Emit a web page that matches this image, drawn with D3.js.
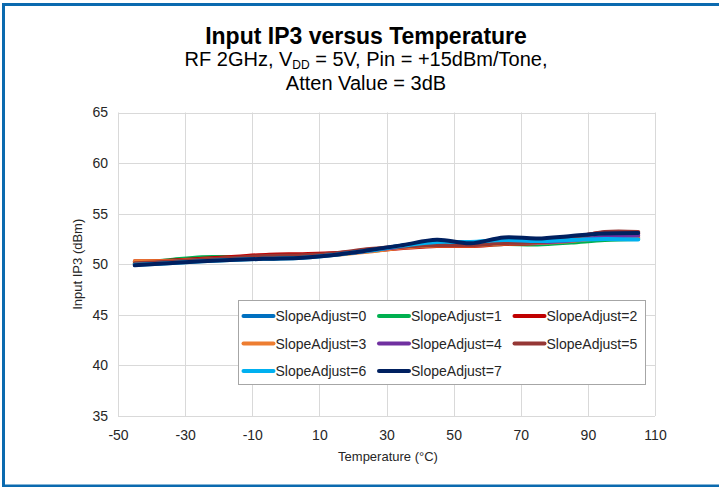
<!DOCTYPE html>
<html>
<head>
<meta charset="utf-8">
<script src="https://cdn.jsdelivr.net/npm/d3@7"></script>
<style>
  body { margin: 0; background: #fff; }
  svg text { font-family: "Liberation Sans", Arial, sans-serif; fill: #262626; }
</style>
</head>
<body>
<svg width="719" height="487"></svg>
<script>
// temperatures (°C) where each curve was sampled
var temps = [-45, -35, -25, -15, -5, 5, 15, 25, 35, 45, 55, 65, 75, 85, 95, 105];

// Input IP3 (dBm) per SlopeAdjust setting
var slope0 = [50.0, 50.15, 50.4, 50.5, 50.6, 50.7, 51.0, 51.35, 51.85, 52.2, 52.15, 52.3, 52.3, 52.4, 52.6, 52.6];
var slope1 = [50.1, 50.4, 50.7, 50.7, 50.75, 50.8, 51.0, 51.3, 51.7, 51.95, 51.9, 52.0, 51.95, 52.15, 52.4, 52.5];
var slope2 = [50.3, 50.35, 50.55, 50.75, 50.95, 51.0, 51.1, 51.35, 51.6, 51.8, 51.8, 52.0, 52.1, 52.6, 53.15, 53.0];
var slope3 = [50.3, 50.3, 50.45, 50.6, 50.75, 50.8, 50.95, 51.25, 51.65, 51.85, 51.85, 52.05, 52.1, 52.3, 52.6, 52.7];
var slope4 = [50.0, 50.2, 50.4, 50.55, 50.7, 50.8, 51.0, 51.35, 51.75, 52.0, 51.95, 52.15, 52.15, 52.35, 52.7, 52.85];
var slope5 = [50.1, 50.25, 50.45, 50.65, 50.85, 50.9, 51.1, 51.5, 51.75, 51.9, 51.9, 52.1, 52.2, 52.6, 53.2, 53.2];
var slope6 = [49.95, 50.1, 50.3, 50.45, 50.55, 50.65, 50.95, 51.35, 51.85, 52.2, 52.2, 52.4, 52.3, 52.4, 52.5, 52.45];
var slope7 = [49.9, 50.1, 50.3, 50.45, 50.55, 50.65, 50.95, 51.4, 51.9, 52.42, 52.07, 52.65, 52.55, 52.8, 53.05, 53.1];

var names = ["SlopeAdjust=0", "SlopeAdjust=1", "SlopeAdjust=2", "SlopeAdjust=3",
             "SlopeAdjust=4", "SlopeAdjust=5", "SlopeAdjust=6", "SlopeAdjust=7"];
var values = [slope0, slope1, slope2, slope3, slope4, slope5, slope6, slope7];
var color = ["#0070c0", "#00b050", "#c00000", "#ed7d31", "#7030a0", "#953735", "#00b0f0", "#002060"];

var xTicks = [-50, -30, -10, 10, 30, 50, 70, 90, 110];
var yTicks = [35, 40, 45, 50, 55, 60, 65];

var svg = d3.select("svg");

// blue frame round the whole figure
svg.append("rect")
  .attr("x", 3.5).attr("y", 4.5)
  .attr("width", 800).attr("height", 481.5)
  .attr("fill", "none")
  .attr("stroke", "#0b6aaf")
  .attr("stroke-width", 3);

// titles
svg.append("text")
  .attr("x", 366).attr("y", 44)
  .attr("text-anchor", "middle")
  .style("font-size", "23px").style("font-weight", "bold")
  .style("fill", "#000")
  .text("Input IP3 versus Temperature");

var sub = svg.append("text")
  .attr("x", 366).attr("y", 66)
  .attr("text-anchor", "middle")
  .style("font-size", "20px").style("fill", "#000");
sub.append("tspan").text("RF 2GHz, V");
sub.append("tspan").attr("dy", 3).style("font-size", "12px").text("DD");
sub.append("tspan").attr("dy", -3).text(" = 5V, Pin = +15dBm/Tone,");

svg.append("text")
  .attr("x", 366).attr("y", 90)
  .attr("text-anchor", "middle")
  .style("font-size", "20px").style("fill", "#000")
  .text("Atten Value = 3dB");

var plotL = 118, plotR = 655, plotT = 112.5, plotB = 416;

var x = d3.scaleLinear().domain([-50, 110]).range([plotL, plotR]);
var y = d3.scaleLinear().domain([35, 65]).range([plotB, plotT]);

// grid
var grid = svg.append("g");
grid.selectAll(".vg").data(xTicks).enter().append("line")
  .attr("x1", function(d) { return Math.round(x(d)) + 0.5; })
  .attr("x2", function(d) { return Math.round(x(d)) + 0.5; })
  .attr("y1", plotT).attr("y2", plotB)
  .attr("stroke", "#d9d9d9");
grid.selectAll(".hg").data(yTicks).enter().append("line")
  .attr("y1", function(d) { return Math.round(y(d)) + 0.5; })
  .attr("y2", function(d) { return Math.round(y(d)) + 0.5; })
  .attr("x1", plotL).attr("x2", plotR)
  .attr("stroke", "#d9d9d9");

// axes: labels only, the grid draws the frame
var xAxis = svg.append("g")
  .attr("transform", "translate(0," + plotB + ")")
  .call(d3.axisBottom(x).tickValues(xTicks).tickFormat(String).tickSize(0).tickPadding(14));
var yAxis = svg.append("g")
  .attr("transform", "translate(" + plotL + ",0)")
  .call(d3.axisLeft(y).tickValues(yTicks).tickFormat(String).tickSize(0).tickPadding(10));
[xAxis, yAxis].forEach(function(a) {
  a.select(".domain").remove();
  a.selectAll("text")
    .style("font-family", "'Liberation Sans', Arial, sans-serif")
    .style("font-size", "14px")
    .style("fill", "#262626");
});

svg.append("text")
  .attr("x", 388).attr("y", 461)
  .attr("text-anchor", "middle")
  .style("font-size", "13px")
  .text("Temperature (°C)");

svg.append("text")
  .attr("transform", "translate(82," + ((plotT + plotB) / 2) + ") rotate(-90)")
  .attr("text-anchor", "middle")
  .style("font-size", "13px")
  .text("Input IP3 (dBm)");

// curves
var line = d3.line()
  .x(function(d) { return x(d[0]); })
  .y(function(d) { return y(d[1]); })
  .curve(d3.curveCatmullRom.alpha(0.5));

svg.append("g").selectAll("path")
  .data(values)
  .enter().append("path")
  .attr("d", function(v) { return line(temps.map(function(t, i) { return [t, v[i]]; })); })
  .attr("fill", "none")
  .attr("stroke", function(v, i) { return color[i]; })
  .attr("stroke-width", 4)
  .attr("stroke-linecap", "round")
  .attr("stroke-linejoin", "round");

// legend
var lg = svg.append("g").attr("transform", "translate(238.5,300.5)");
lg.append("rect")
  .attr("width", 407).attr("height", 84)
  .attr("fill", "#fff")
  .attr("stroke", "#a6a6a6");

var item = lg.selectAll(".item").data(names).enter().append("g")
  .attr("transform", function(d, i) {
    return "translate(" + (4 + (i % 3) * 135.5) + "," + (15.5 + Math.floor(i / 3) * 27.5) + ")";
  });
item.append("line")
  .attr("x1", 1).attr("x2", 31)
  .attr("stroke", function(d, i) { return color[i]; })
  .attr("stroke-width", 4)
  .attr("stroke-linecap", "round");
item.append("text")
  .attr("x", 33).attr("y", 5)
  .style("font-size", "14px")
  .text(function(d) { return d; });
</script>
</body>
</html>
